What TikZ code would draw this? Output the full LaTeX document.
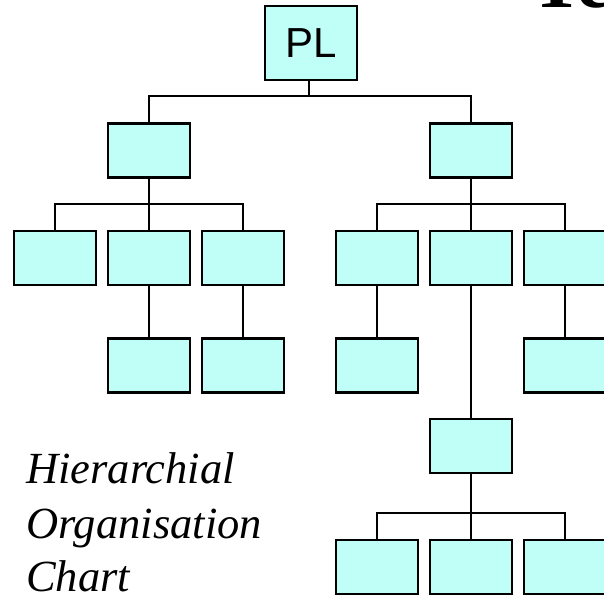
\documentclass[tikz,border=0pt]{standalone}
\usepackage{fontspec}
\setmainfont{Liberation Serif}
\newfontfamily\chartsans{Liberation Sans}
\definecolor{boxfill}{RGB}{192,255,248}
\tikzset{
  orgbox/.style={draw=black, line width=2.3pt, fill=boxfill, minimum width=82pt,
    minimum height=54pt, inner sep=0pt},
  link/.style={draw=black, line width=2pt},
  caption/.style={anchor=base west, inner sep=0pt,
    font=\fontsize{44.5}{50}\selectfont\itshape}
}
\begin{document}
\begin{tikzpicture}[x=1pt,y=-1pt]
\useasboundingbox (0,0) rectangle (604,596);
\clip (0,0) rectangle (604,596);
\fill[white] (0,0) rectangle (604,596);

% heading, cut by the top edge
\node[anchor=base west, inner sep=0pt, font=\fontsize{80}{90}\selectfont\bfseries]
  (title) at (530,8) {Te};

% root
\node[orgbox, minimum width=92pt, minimum height=74pt,
  font=\chartsans\fontsize{42}{48}\selectfont] (pl) at (311,43) {PL};

% first level
\node[orgbox] (a) at (149,150.5) {};
\node[orgbox] (b) at (471,150.5) {};

% second level
\node[orgbox] (a1) at (55,258) {};
\node[orgbox] (a2) at (149,258) {};
\node[orgbox] (a3) at (243,258) {};
\node[orgbox] (b1) at (377,258) {};
\node[orgbox] (b2) at (471,258) {};
\node[orgbox] (b3) at (565,258) {};

% third level
\node[orgbox] (a21) at (149,365.5) {};
\node[orgbox] (a31) at (243,365.5) {};
\node[orgbox] (b11) at (377,365.5) {};
\node[orgbox] (b31) at (565,365.5) {};
\node[orgbox] (b21) at (471,446) {};

% fourth level
\node[orgbox] (c1) at (377,567) {};
\node[orgbox] (c2) at (471,567) {};
\node[orgbox] (c3) at (565,567) {};

% junction points on the horizontal bars
\coordinate (j0) at (309,96);
\coordinate (ja) at (149,203.5);
\coordinate (jb) at (471,203.5);
\coordinate (jc) at (471,513);

% connectors
\draw[link] (pl.south -| j0) -- (j0);
\draw[link] (a.north) |- (j0) -| (b.north);

\draw[link] (a.south) -- (a2.north);
\draw[link] (a1.north) |- (ja) -| (a3.north);
\draw[link] (b.south) -- (b2.north);
\draw[link] (b1.north) |- (jb) -| (b3.north);

\draw[link] (a2.south) -- (a21.north);
\draw[link] (a3.south) -- (a31.north);
\draw[link] (b1.south) -- (b11.north);
\draw[link] (b3.south) -- (b31.north);
\draw[link] (b2.south) -- (b21.north);

\draw[link] (b21.south) -- (c2.north);
\draw[link] (c1.north) |- (jc) -| (c3.north);

% caption
\node[caption] (cap1) at (26,483.5) {Hierarchial};
\node[caption] (cap2) at (26,538.5) {Organisation};
\node[caption] (cap3) at (26,591) {Chart};
\end{tikzpicture}
\end{document}
